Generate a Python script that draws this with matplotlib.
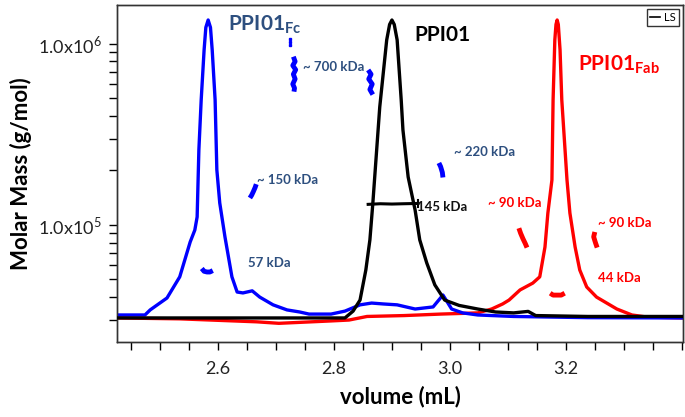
import matplotlib
matplotlib.use("Agg")
import matplotlib.pyplot as plt
from matplotlib.ticker import FixedLocator, MultipleLocator, LogLocator, NullFormatter
from matplotlib.lines import Line2D

plt.rcParams['font.family'] = ['Lato', 'DejaVu Sans']
plt.rcParams['mathtext.fontset'] = 'custom'
plt.rcParams['mathtext.rm'] = 'Lato'
plt.rcParams['mathtext.bf'] = 'Lato:bold'

# light scattering traces (volume mL, relative signal)
fc_vol = [2.426, 2.474, 2.483, 2.512, 2.534, 2.552, 2.560, 2.564, 2.567, 2.571,
          2.576, 2.579, 2.583, 2.587, 2.590, 2.595, 2.598, 2.603, 2.612, 2.624,
          2.633, 2.643, 2.659, 2.672, 2.695, 2.719, 2.741, 2.757, 2.795, 2.819,
          2.845, 2.865, 2.885, 2.909, 2.940, 2.971, 2.988, 3.003, 3.022, 3.048,
          3.110, 3.238, 3.402]
fc_sig = [0.010, 0.010, 0.027, 0.067, 0.138, 0.255, 0.295, 0.339, 0.564, 0.732,
          0.899, 0.975, 1.000, 0.975, 0.899, 0.732, 0.497, 0.386, 0.272, 0.138,
          0.087, 0.084, 0.091, 0.070, 0.044, 0.027, 0.020, 0.013, 0.013, 0.023,
          0.044, 0.050, 0.047, 0.044, 0.030, 0.037, 0.077, 0.030, 0.017, 0.010,
          0.005, 0.001, 0.000]

ppi_vol = [2.426, 2.819, 2.833, 2.845, 2.855, 2.862, 2.867, 2.879, 2.891, 2.896,
           2.900, 2.904, 2.909, 2.916, 2.919, 2.928, 2.940, 2.948, 2.960, 2.974,
           2.991, 3.016, 3.048, 3.079, 3.110, 3.135, 3.148, 3.238, 3.402]
ppi_sig = [0.000, 0.000, 0.023, 0.060, 0.161, 0.262, 0.383, 0.708, 0.933, 0.985,
           1.000, 0.985, 0.933, 0.732, 0.631, 0.473, 0.362, 0.262, 0.185, 0.111,
           0.060, 0.042, 0.030, 0.020, 0.017, 0.022, 0.008, 0.005, 0.005]

fab_vol = [2.426, 2.534, 2.667, 2.705, 2.795, 2.826, 2.857, 2.921, 2.984, 3.048,
           3.072, 3.091, 3.102, 3.121, 3.143, 3.155, 3.164, 3.169, 3.176, 3.178,
           3.181, 3.183, 3.185, 3.187, 3.190, 3.193, 3.202, 3.207, 3.216, 3.224,
           3.236, 3.253, 3.288, 3.314, 3.340, 3.402]
fab_sig = [0.000, -0.003, -0.013, -0.018, -0.010, -0.007, 0.005, 0.008, 0.013, 0.017,
           0.030, 0.047, 0.060, 0.094, 0.117, 0.138, 0.238, 0.352, 0.463, 0.732,
           0.933, 0.985, 1.000, 0.985, 0.900, 0.732, 0.463, 0.352, 0.238, 0.161,
           0.104, 0.070, 0.030, 0.010, 0.003, 0.000]

# molar mass readings (volume mL, g/mol)
fc_mm = [
    ([2.572, 2.576, 2.581, 2.586, 2.591], [57500, 55500, 55000, 55000, 56000]),
    ([2.655, 2.658, 2.661, 2.664, 2.666], [141000, 146000, 153000, 161000, 168000]),
    ([2.730, 2.733, 2.729, 2.734, 2.730, 2.733, 2.729, 2.732, 2.731],
     [850000, 800000, 760000, 720000, 680000, 640000, 600000, 570000, 545000]),
    ([2.859, 2.864, 2.860, 2.866, 2.862, 2.867],
     [718000, 680000, 640000, 600000, 560000, 525000]),
    ([2.981, 2.984, 2.987, 2.988], [220000, 210000, 195000, 183000]),
]
fc_dots_vol = [2.724, 2.724, 2.724]
fc_dots_mm = [1.07e6, 1.03e6, 0.99e6]

fab_mm = [
    ([3.119, 3.122, 3.126, 3.130, 3.133], [96000, 90000, 84000, 79000, 75000]),
    ([3.250, 3.248, 3.251, 3.254], [91500, 86000, 80000, 75000]),
    ([3.173, 3.178, 3.185, 3.192, 3.198], [42000, 41000, 41000, 41000, 42000]),
]
ppi_mm = ([2.859, 2.880, 2.900, 2.920, 2.945], [130000, 131000, 130500, 131000, 131500])

BLUE = '#0000ff'
RED = '#ff0000'
NAVY = '#2d4f7f'

fig = plt.figure(figsize=(6.85, 4.17), dpi=100)
ax = fig.add_axes([0.171, 0.180, 0.826, 0.808])
ax2 = ax.twinx()

ax.set_yscale('log')
ax.set_xlim(2.426, 3.402)
ax.set_ylim(2.26e4, 1.64e6)
ax2.set_ylim(-0.0805, 1.0503)

ax2.plot(fab_vol, fab_sig, color=RED, lw=2.4, zorder=1, solid_joinstyle='round')
ax2.plot(fc_vol, fc_sig, color=BLUE, lw=2.4, zorder=2, solid_joinstyle='round')
ax2.plot(ppi_vol, ppi_sig, color='black', lw=2.4, zorder=3, solid_joinstyle='round')

for v, m in fc_mm:
    ax.plot(v, m, color=BLUE, lw=3.5, solid_capstyle='butt')
ax.plot(fc_dots_vol, fc_dots_mm, ls='none', marker='s', ms=1.8, color=BLUE)
for v, m in fab_mm:
    ax.plot(v, m, color=RED, lw=3.5, solid_capstyle='butt')
ax.plot(ppi_mm[0], ppi_mm[1], color='black', lw=2.2)
ax.plot([ppi_mm[0][-1], ppi_mm[0][-1]], [125000, 137000], color='black', lw=1.5)

# axes styling
ax.yaxis.set_major_locator(FixedLocator([1e5, 1e6]))
ax.set_yticklabels(['1.0x10$^{5}$', '1.0x10$^{6}$'])
ax.yaxis.set_minor_locator(LogLocator(base=10, subs=(2, 3, 4, 5, 6, 7, 8, 9)))
ax.yaxis.set_minor_formatter(NullFormatter())
ax.xaxis.set_major_locator(FixedLocator([2.6, 2.8, 3.0, 3.2]))
ax.set_xticklabels(['2.6', '2.8', '3.0', '3.2'])
ax.xaxis.set_minor_locator(MultipleLocator(0.05))
ax.tick_params(axis='both', which='both', direction='out', length=6, width=1, colors='black')
ax.tick_params(axis='both', which='major', labelsize=13, labelcolor='#222222')
ax.tick_params(axis='x', which='major', pad=8)
ax.tick_params(axis='y', which='major', pad=5)
ax2.set_yticks([])
for sp in list(ax.spines.values()) + list(ax2.spines.values()):
    sp.set_color('#333333')
    sp.set_linewidth(1.0)

ax.set_xlabel('volume (mL)', fontsize=16, fontweight='bold', labelpad=6)
ax.set_ylabel('Molar Mass (g/mol)', fontsize=16, fontweight='bold', labelpad=4)

# labels
ax2.text(2.617, 0.983, r'PPI01$_{\mathbf{Fc}}$', color=NAVY, fontsize=15,
         fontweight='bold', va='center')
ax2.text(2.938, 0.950, 'PPI01', color='black', fontsize=15, fontweight='bold', va='center')
ax2.text(3.221, 0.849, r'PPI01$_{\mathbf{Fab}}$', color=RED, fontsize=15,
         fontweight='bold', va='center')

small = dict(fontsize=9.5, fontweight='bold', va='center')
ax2.text(2.746, 0.842, '~ 700 kDa', color=NAVY, **small)
ax2.text(2.668, 0.463, '~ 150 kDa', color=NAVY, **small)
ax2.text(2.652, 0.185, '57 kDa', color=NAVY, **small)
ax2.text(3.007, 0.557, '~ 220 kDa', color=NAVY, **small)
ax2.text(2.943, 0.372, '145 kDa', color='#111111', **small)
ax2.text(3.065, 0.386, '~ 90 kDa', color=RED, **small)
ax2.text(3.255, 0.319, '~ 90 kDa', color=RED, **small)
ax2.text(3.255, 0.134, '44 kDa', color=RED, **small)

leg = ax2.legend([Line2D([], [], color='black', lw=1.2)], ['LS'], loc='upper right',
                 fontsize=8, handlelength=0.9, handletextpad=0.4, borderpad=0.25,
                 frameon=True, fancybox=False, borderaxespad=0.4)
leg.get_frame().set_edgecolor('black')
leg.get_frame().set_linewidth(1.0)

fig.savefig('out.png', dpi=100)
